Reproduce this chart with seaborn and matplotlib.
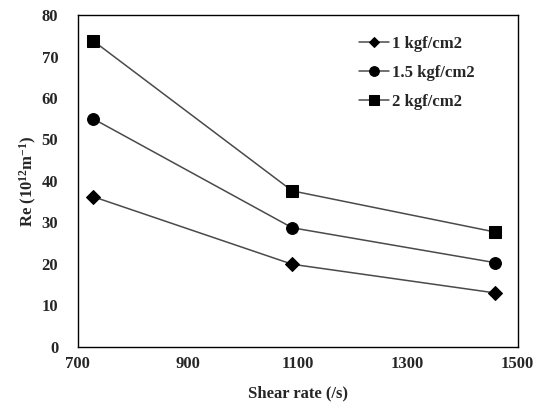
import matplotlib
matplotlib.use("Agg")
import matplotlib.pyplot as plt
import seaborn as sns
import pandas as pd

shear_rate = [728, 1090, 1458]
re_1 = [36.2, 19.9, 13.0]
re_15 = [55.0, 28.7, 20.3]
re_2 = [73.8, 37.6, 27.7]
labels = ["1 kgf/cm2", "1.5 kgf/cm2", "2 kgf/cm2"]
markers = ["D", "o", "s"]
msizes = [7, 8.5, 9]
leg_msizes = [5.5, 7, 7]

sns.set_style("white")
plt.rcParams['font.family'] = ['Liberation Serif', 'DejaVu Serif']
plt.rcParams['font.weight'] = 'bold'
plt.rcParams['mathtext.fontset'] = 'custom'
plt.rcParams['mathtext.rm'] = 'Liberation Serif:bold'
plt.rcParams['mathtext.default'] = 'rm'

fig = plt.figure(figsize=(5.34, 4.07), dpi=100)
ax = fig.add_axes([0.1455, 0.148, 0.824, 0.815])

for vals, lab, m, ms in zip([re_1, re_15, re_2], labels, markers, msizes):
    df = pd.DataFrame({"x": shear_rate, "y": vals})
    sns.lineplot(data=df, x="x", y="y", ax=ax, color="#4a4a4a", linewidth=1.1,
                 marker=m, markersize=ms, markerfacecolor="black",
                 markeredgecolor="black", label=lab)

ax.set_xlim(700, 1500)
ax.set_ylim(0, 80)
ax.set_xticks([700, 900, 1100, 1300, 1500])
ax.set_yticks(range(0, 81, 10))
ax.tick_params(direction="in", length=4, width=0.8, labelsize=12)
ax.tick_params(axis="y", pad=14)
ax.tick_params(axis="x", pad=7)
for lab in ax.get_xticklabels() + ax.get_yticklabels():
    lab.set_fontweight("bold")
for s in ax.spines.values():
    s.set_color("black")
    s.set_linewidth(1.0)
ax.set_xlabel("Shear rate (/s)", fontsize=12, fontweight="bold", labelpad=9)
ax.set_ylabel("Re (10$^{12}$m$^{-1}$)", fontsize=12, fontweight="bold", labelpad=2)
leg = ax.legend(loc="upper left", bbox_to_anchor=(0.64, 0.937), frameon=False,
                fontsize=12, labelspacing=0.78, handlelength=1.8, handletextpad=0.15,
                borderpad=0, borderaxespad=0)
for t in leg.get_texts():
    t.set_fontweight("bold")
for h, ms in zip(leg.legend_handles, leg_msizes):
    h.set_markersize(ms)

fig.savefig("out.png", dpi=100)
